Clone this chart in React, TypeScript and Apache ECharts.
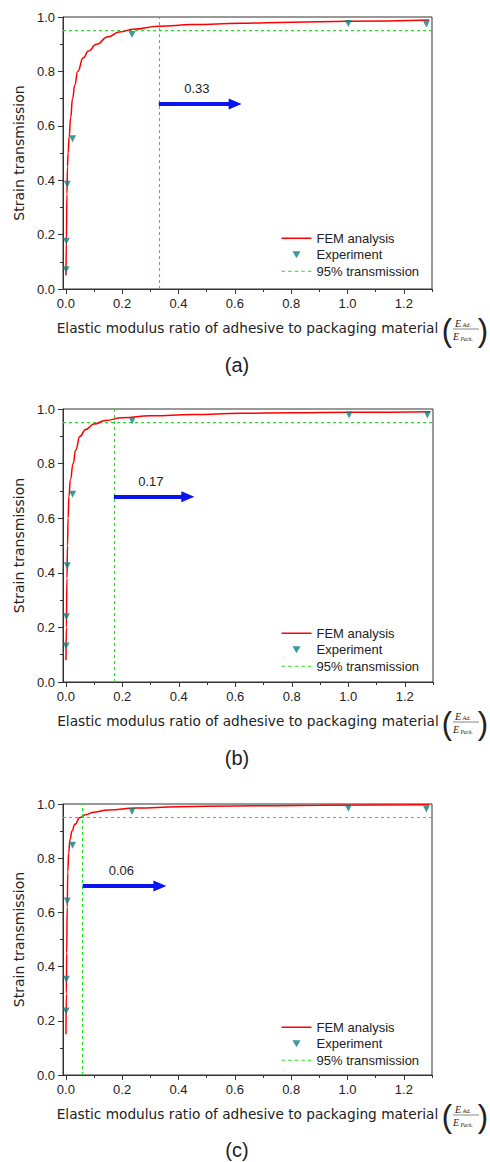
import React, { useEffect, useRef } from "react";
import * as echarts from "echarts";

// ---- data ----
const panelNames = ["(a)", "(b)", "(c)"];
const expRatio = [0.001, 0.002, 0.005, 0.024, 0.235, 1.003, 1.28];
const expA = [0.071, 0.176, 0.385, 0.552, 0.936, 0.976, 0.974];
const expB = [0.132, 0.239, 0.426, 0.688, 0.957, 0.978, 0.978];
const expC = [0.236, 0.353, 0.642, 0.848, 0.972, 0.984, 0.982];

const femAX = [0.0005, 0.002, 0.004, 0.006, 0.008, 0.012, 0.017, 0.024, 0.032, 0.042, 0.062, 0.08, 0.109, 0.15, 0.19, 0.24, 0.33, 0.45, 0.62, 0.8, 1.0, 1.29];
const femAY = [0.05, 0.18, 0.35, 0.45, 0.5, 0.56, 0.63, 0.7, 0.75, 0.8, 0.85, 0.875, 0.9, 0.927, 0.945, 0.955, 0.966, 0.972, 0.977, 0.981, 0.984, 0.989];
const femBX = [0.0005, 0.002, 0.004, 0.006, 0.008, 0.011, 0.016, 0.026, 0.035, 0.05, 0.07, 0.1, 0.14, 0.2, 0.3, 0.45, 0.62, 0.8, 1.0, 1.29];
const femBY = [0.08, 0.2, 0.38, 0.5, 0.6, 0.68, 0.74, 0.8, 0.85, 0.9, 0.925, 0.945, 0.958, 0.968, 0.975, 0.98, 0.984, 0.986, 0.988, 0.99];
const femCX = [0.0005, 0.002, 0.003, 0.005, 0.007, 0.01, 0.015, 0.022, 0.032, 0.05, 0.07, 0.1, 0.15, 0.25, 0.4, 0.6, 0.9, 1.29];
const femCY = [0.15, 0.3, 0.45, 0.62, 0.75, 0.82, 0.87, 0.9, 0.925, 0.95, 0.96, 0.97, 0.978, 0.985, 0.99, 0.993, 0.995, 0.997];

const thresholdLevel = 0.95;
const thresholdRatio = [0.33, 0.17, 0.06];
const thresholdLabels = ["0.33", "0.17", "0.06"];
const arrowEnd = [0.601, 0.432, 0.334];
const arrowLevel = [0.68, 0.679, 0.697];

const xMin = -0.01;
const xMax = 1.3;
const xMajorTicks = [0, 0.2, 0.4, 0.6, 0.8, 1.0, 1.2];
const xMinorTicks = [0.1, 0.3, 0.5, 0.7, 0.9, 1.1, 1.3];

// ---- style ----
const FONT = "Liberation Sans";
const TITLE_FONT = "DejaVu Sans";
const TXT = "#222";
const RED = "#ff0000";
const GREEN = "#1ee61e";
const TEAL = "#0f8080";
const BLUE = "#0a14f0";
const grids = [
  { left: 63, top: 17, width: 369, height: 272 },
  { left: 63, top: 409, width: 370, height: 273 },
  { left: 63, top: 804, width: 369, height: 271 },
];
const legendTops = [230, 625, 1019];
const captionY = [365, 758, 1150];

const ICON_LINE = "path://M0 0H30V1.5H0Z";
const ICON_DASH = "path://M0 0H3.5V1H0Z M6.5 0H10V1H6.5Z M13 0H16.5V1H13Z M19.5 0H23V1H19.5Z M26 0H29.5V1H26Z";
const ICON_TRI = "path://M0 0L8 0L4 7Z";

const zip = (xs: number[], ys: number[]) => xs.map((x, i) => [x, ys[i]]);

function fraction(axisY: number) {
  const serif = "Liberation Serif";
  return [
    { type: "text", x: 447, y: axisY + 41, style: { text: "(", fontSize: 31, fontFamily: FONT, fill: TXT, align: "center", verticalAlign: "middle" } },
    { type: "text", x: 483, y: axisY + 41, style: { text: ")", fontSize: 31, fontFamily: FONT, fill: TXT, align: "center", verticalAlign: "middle" } },
    { type: "text", x: 458, y: axisY + 34, style: { text: "E", fontSize: 10, fontStyle: "italic", fontFamily: serif, fill: TXT, align: "center", verticalAlign: "middle" } },
    { type: "text", x: 462.5, y: axisY + 36, style: { text: "Ad.", fontSize: 6, fontStyle: "italic", fontFamily: serif, fill: TXT, align: "left", verticalAlign: "middle" } },
    { type: "line", shape: { x1: 453, y1: axisY + 40, x2: 479, y2: axisY + 40 }, style: { stroke: "#555", lineWidth: 0.7 } },
    { type: "text", x: 456, y: axisY + 47, style: { text: "E", fontSize: 10, fontStyle: "italic", fontFamily: serif, fill: TXT, align: "center", verticalAlign: "middle" } },
    { type: "text", x: 460.5, y: axisY + 50, style: { text: "Pack.", fontSize: 5.5, fontStyle: "italic", fontFamily: serif, fill: TXT, align: "left", verticalAlign: "middle" } },
  ];
}

export default function App() {
  const ref = useRef<HTMLDivElement>(null);
  useEffect(() => {
    if (!ref.current) return;
    const chart = echarts.init(ref.current, null, { renderer: "svg" });
    const exps = [expA, expB, expC];
    const fems = [zip(femAX, femAY), zip(femBX, femBY), zip(femCX, femCY)];

    const xAxes: any[] = [];
    const yAxes: any[] = [];
    const series: any[] = [];
    const legends: any[] = [];
    const graphics: any[] = [];

    grids.forEach((g, i) => {
      xAxes.push({
        type: "value",
        gridIndex: i,
        position: "bottom",
        min: xMin,
        max: xMax,
        name: "Elastic modulus ratio of adhesive to packaging material",
        nameLocation: "middle",
        nameGap: 32,
        nameTextStyle: { fontSize: 13.7, fontFamily: TITLE_FONT, color: TXT },
        axisLine: { show: true, onZero: false, lineStyle: { color: "#333", width: 1 } },
        axisTick: { show: true, customValues: xMajorTicks, length: 5, lineStyle: { color: "#333" } },
        axisLabel: {
          show: true,
          customValues: xMajorTicks,
          margin: 8,
          fontSize: 13,
          fontFamily: FONT,
          color: TXT,
          formatter: (v: number) => v.toFixed(1),
        },
        splitLine: { show: false },
      });
      xAxes.push({
        type: "value",
        gridIndex: i,
        position: "bottom",
        offset: 0,
        min: xMin,
        max: xMax,
        axisLine: { show: false, onZero: false },
        axisTick: { show: true, customValues: xMinorTicks, length: 3, lineStyle: { color: "#333" } },
        axisLabel: { show: false },
        splitLine: { show: false },
      });
      yAxes.push({
        type: "value",
        gridIndex: i,
        min: 0,
        max: 1,
        interval: 0.2,
        name: "Strain transmission",
        nameLocation: "middle",
        nameGap: 32,
        nameTextStyle: { fontSize: 14, fontFamily: TITLE_FONT, color: TXT },
        axisLine: { show: true, onZero: false, lineStyle: { color: "#333", width: 1 } },
        axisTick: { show: true, length: 5, lineStyle: { color: "#333" } },
        minorTick: { show: true, splitNumber: 2, length: 3, lineStyle: { color: "#333" } },
        axisLabel: { margin: 8, fontSize: 13, fontFamily: FONT, color: TXT, formatter: (v: number) => v.toFixed(1) },
        splitLine: { show: false },
        minorSplitLine: { show: false },
      });

      const xi = i * 2;
      series.push({
        name: "95% transmission",
        type: "line",
        xAxisIndex: xi,
        yAxisIndex: i,
        data: [[xMin, thresholdLevel], [xMax, thresholdLevel]],
        symbol: "none",
        silent: true,
        z: 1,
        itemStyle: { color: GREEN },
        lineStyle: { color: GREEN, width: 1.1, type: [3, 3] },
        markLine: {
          silent: true,
          symbol: ["none", "none"],
          label: { show: false },
          lineStyle: { color: GREEN, width: 1.1, type: [3, 3] },
          data: [{ xAxis: thresholdRatio[i] }],
        },
      });
      series.push({
        name: "FEM analysis",
        type: "line",
        xAxisIndex: xi,
        yAxisIndex: i,
        data: fems[i],
        symbol: "none",
        smooth: true,
        smoothMonotone: "x",
        z: 3,
        lineStyle: { color: RED, width: 1.5 },
        itemStyle: { color: RED },
      });
      series.push({
        name: "Experiment",
        type: "scatter",
        xAxisIndex: xi,
        yAxisIndex: i,
        data: zip(expRatio, exps[i]),
        symbol: "triangle",
        symbolRotate: 180,
        symbolSize: 7,
        z: 4,
        itemStyle: { color: TEAL },
      });
      series.push({
        name: "arrow" + i,
        type: "line",
        xAxisIndex: xi,
        yAxisIndex: i,
        data: [],
        symbol: "none",
        z: 5,
        markLine: {
          silent: true,
          symbol: ["none", "triangle"],
          symbolSize: [11, 13],
          lineStyle: { color: BLUE, width: 4, type: "solid" },
          itemStyle: { color: BLUE },
          label: {
            show: true,
            position: "insideMiddleTop",
            distance: 9,
            formatter: thresholdLabels[i],
            fontSize: 13,
            fontFamily: FONT,
            color: TXT,
          },
          data: [[{ coord: [thresholdRatio[i], arrowLevel[i]] }, { coord: [arrowEnd[i], arrowLevel[i]] }]],
        },
      });

      legends.push({
        data: [
          { name: "FEM analysis", icon: ICON_LINE, itemStyle: { color: RED } },
          { name: "Experiment", icon: ICON_TRI, itemStyle: { color: TEAL } },
          { name: "95% transmission", icon: ICON_DASH, itemStyle: { color: GREEN } },
        ],
        orient: "vertical",
        left: 281.5,
        top: legendTops[i],
        padding: 0,
        itemWidth: 30,
        itemHeight: 7,
        itemGap: 0,
        selectedMode: false,
        textStyle: { fontSize: 13, fontFamily: FONT, color: TXT, lineHeight: 16.5 },
      });

      const axisY = g.top + g.height;
      graphics.push(...fraction(axisY));
      graphics.push({
        type: "text",
        x: 237,
        y: captionY[i],
        style: { text: panelNames[i], fontSize: 20, fontFamily: FONT, fill: TXT, align: "center", verticalAlign: "middle" },
      });
    });

    chart.setOption({
      animation: false,
      backgroundColor: "#ffffff",
      grid: grids.map((g) => ({ ...g, show: true, borderColor: "#333", borderWidth: 1, backgroundColor: "transparent", outerBoundsMode: "none" })),
      xAxis: xAxes,
      yAxis: yAxes,
      legend: legends,
      series,
      graphic: graphics,
    });
    return () => chart.dispose();
  }, []);
  return <div ref={ref} style={{ position: "absolute", left: 0, top: 0, width: 490, height: 1162 }} />;
}
